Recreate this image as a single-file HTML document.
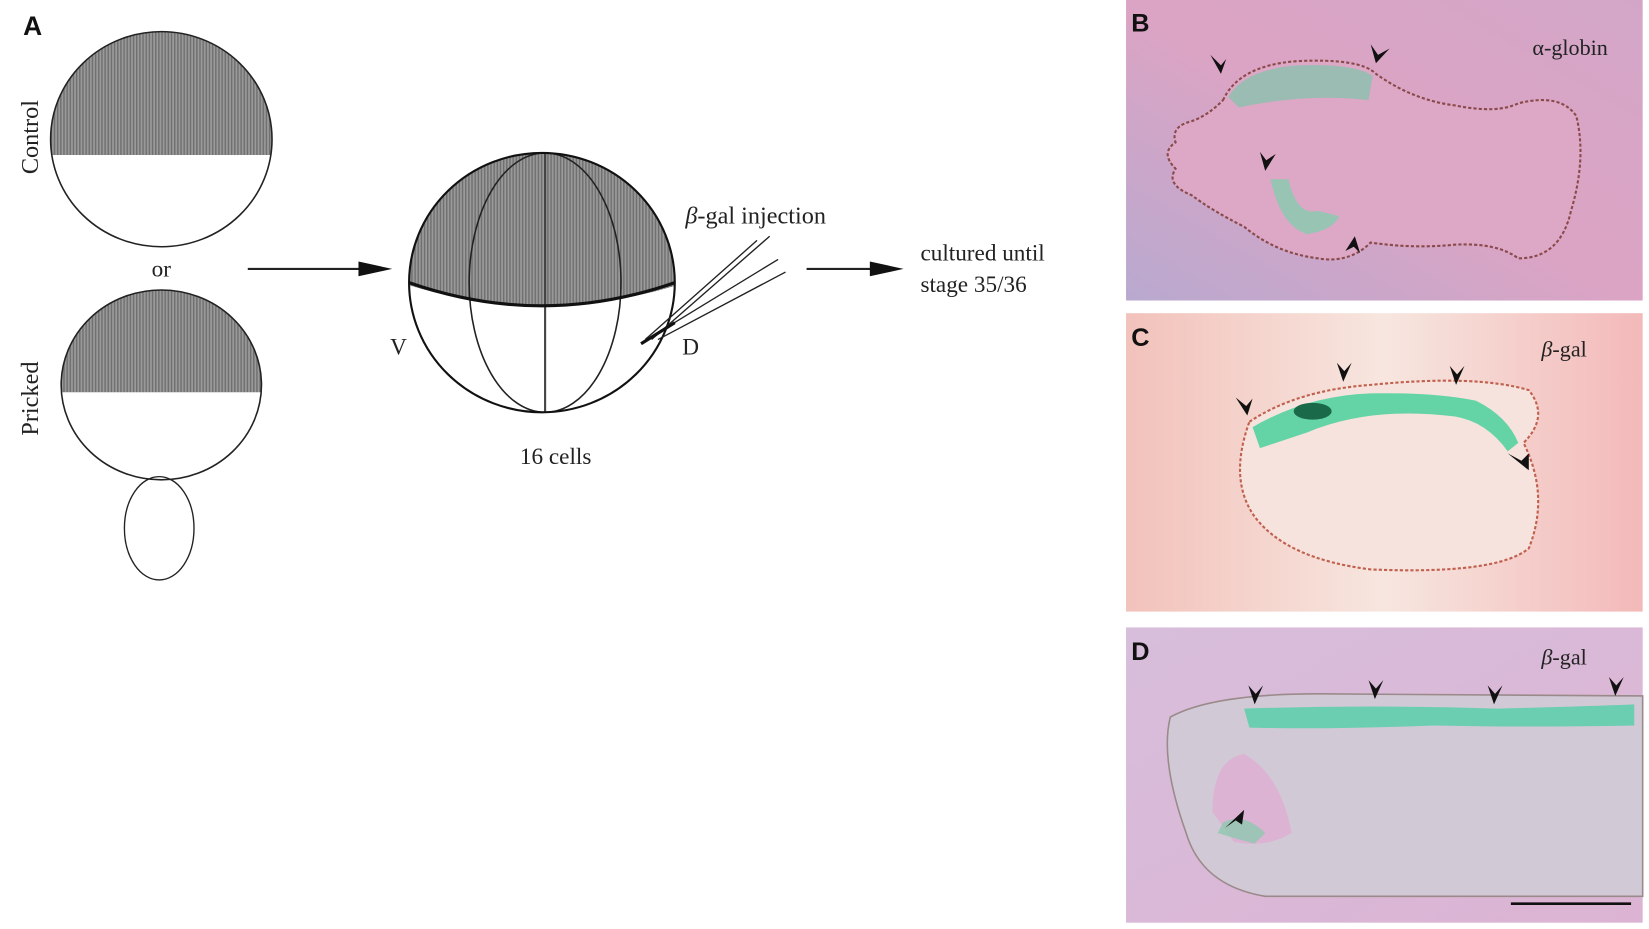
<!DOCTYPE html>
<html><head><meta charset="utf-8"><style>
html,body{margin:0;padding:0;background:#fff;width:1649px;height:929px;overflow:hidden}
svg{display:block}
.s{font-family:"Liberation Serif",serif;fill:#222}
.b{font-family:"Liberation Sans",sans-serif;font-weight:bold;fill:#111}
</style></head><body>
<svg width="1649" height="929" viewBox="0 0 1564 881" preserveAspectRatio="none" xmlns="http://www.w3.org/2000/svg">
<defs>
<pattern id="hat" width="3" height="3" patternUnits="userSpaceOnUse"><rect width="3" height="3" fill="#9a9a9a"/><rect width="1.4" height="3" fill="#707070"/></pattern>
<clipPath id="c1"><ellipse cx="153" cy="132" rx="105" ry="102"/></clipPath>
<clipPath id="c2"><ellipse cx="153" cy="365" rx="95" ry="90"/></clipPath>
<clipPath id="c3"><ellipse cx="514" cy="268" rx="126" ry="123"/></clipPath>
<linearGradient id="gB" x1="0" y1="1" x2="1" y2="0"><stop offset="0" stop-color="#b9a9cf"/><stop offset="0.5" stop-color="#dca4c4"/><stop offset="1" stop-color="#d3a6c8"/></linearGradient>
<linearGradient id="gC" x1="0" y1="0" x2="1" y2="0"><stop offset="0" stop-color="#f2c2bb"/><stop offset="0.5" stop-color="#f7e6df"/><stop offset="1" stop-color="#f3b9b9"/></linearGradient>
<linearGradient id="gD" x1="0" y1="0" x2="1" y2="1"><stop offset="0" stop-color="#d7bedb"/><stop offset="1" stop-color="#dcb3d3"/></linearGradient>
</defs>
<text x="22" y="33" class="b" font-size="25">A</text>
<rect x="40" y="20" width="230" height="127" fill="url(#hat)" clip-path="url(#c1)"/>
<ellipse cx="153" cy="132" rx="105" ry="102" fill="none" stroke="#222" stroke-width="1.5"/>
<text class="s" font-size="23" transform="translate(36,130) rotate(-90)" text-anchor="middle">Control</text>
<text x="153" y="262" class="s" font-size="22" text-anchor="middle">or</text>
<rect x="50" y="270" width="210" height="102" fill="url(#hat)" clip-path="url(#c2)"/>
<ellipse cx="153" cy="365" rx="95" ry="90" fill="none" stroke="#222" stroke-width="1.5"/>
<ellipse cx="151" cy="501" rx="33" ry="49" fill="none" stroke="#222" stroke-width="1.3"/>
<text class="s" font-size="23" transform="translate(36,378) rotate(-90)" text-anchor="middle">Pricked</text>
<line x1="235" y1="255" x2="345" y2="255" stroke="#222" stroke-width="2"/>
<path d="M340 248 L372 255 L340 262 Z" fill="#111"/>
<path d="M380 140 L650 140 L650 268 Q514 312 380 268 Z" fill="url(#hat)" clip-path="url(#c3)"/>
<ellipse cx="517" cy="268" rx="72" ry="123" fill="none" stroke="#222" stroke-width="1.5" clip-path="url(#c3)"/>
<line x1="517" y1="145" x2="517" y2="391" stroke="#444" stroke-width="2"/>
<path d="M388 268 Q514 312 640 268" fill="none" stroke="#111" stroke-width="3"/>
<ellipse cx="514" cy="268" rx="126" ry="123" fill="none" stroke="#111" stroke-width="2"/>
<text x="378" y="336" class="s" font-size="22" text-anchor="middle">V</text>
<text x="655" y="336" class="s" font-size="22" text-anchor="middle">D</text>
<text x="527" y="440" class="s" font-size="22" text-anchor="middle">16 cells</text>
<g stroke="#222" stroke-width="1.3">
<line x1="612" y1="322" x2="718" y2="228"/>
<line x1="618" y1="322" x2="730" y2="224"/>
<line x1="620" y1="318" x2="738" y2="246"/>
<line x1="624" y1="322" x2="745" y2="258"/>
</g>
<line x1="608" y1="326" x2="640" y2="306" stroke="#111" stroke-width="3"/>
<text x="650" y="212" class="s" font-size="23"><tspan font-style="italic">β</tspan>-gal injection</text>
<line x1="765" y1="255" x2="830" y2="255" stroke="#222" stroke-width="2"/>
<path d="M825 248 L857 255 L825 262 Z" fill="#111"/>
<text x="873" y="247" class="s" font-size="22">cultured until</text>
<text x="873" y="277" class="s" font-size="22">stage 35/36</text>

<rect x="1068" y="0" width="490" height="285" fill="url(#gB)"/>
<path d="M1160 95 Q1175 62 1230 58 Q1290 55 1305 70 Q1340 95 1380 100 Q1420 108 1440 98 Q1480 88 1495 110 Q1505 150 1490 200 Q1480 245 1440 245 Q1420 230 1380 232 Q1340 236 1300 230 Q1280 250 1250 245 Q1210 240 1180 215 Q1150 200 1130 185 Q1105 175 1115 160 Q1100 145 1115 135 Q1110 120 1130 115 Q1145 110 1160 95 Z" fill="#dca8c6" stroke="#8a4a4a" stroke-width="2" stroke-dasharray="3 2"/>
<path d="M1165 92 Q1180 66 1230 62 Q1285 60 1302 72 L1298 95 Q1240 88 1175 102 Z" fill="#8fbfae" opacity="0.85"/>
<path d="M1205 170 Q1215 215 1240 222 Q1265 218 1270 205 L1250 200 Q1230 205 1222 170 Z" fill="#8fc7b0" opacity="0.9"/>
<text x="1073" y="30" class="b" font-size="24">B</text>
<text x="1525" y="52" class="s" font-size="21" text-anchor="end">α-globin</text>
<rect x="1068" y="297" width="490" height="283" fill="url(#gC)"/>
<path d="M1185 400 Q1230 370 1300 365 Q1400 355 1450 370 Q1470 395 1445 420 Q1470 470 1450 520 Q1420 545 1300 540 Q1220 530 1190 490 Q1165 455 1185 400 Z" fill="#f7e3dd" stroke="#c0604e" stroke-width="2" stroke-dasharray="3 2"/>
<path d="M1188 405 Q1240 375 1300 373 Q1360 372 1400 380 Q1430 395 1440 420 L1430 428 Q1410 400 1380 395 Q1300 385 1240 410 Q1210 420 1195 425 Z" fill="#3fcf9a" opacity="0.8"/>
<ellipse cx="1245" cy="390" rx="18" ry="8" fill="#1a6a4a"/>
<text x="1073" y="328" class="b" font-size="24">C</text>
<text x="1505" y="338" class="s" font-size="21" text-anchor="end"><tspan font-style="italic">β</tspan>-gal</text>
<rect x="1068" y="595" width="490" height="280" fill="url(#gD)"/>
<path d="M1110 680 Q1150 658 1250 658 L1558 660 L1558 850 L1200 850 Q1140 840 1125 790 Q1100 720 1110 680 Z" fill="#d2c9d6" stroke="#9a8a8a" stroke-width="1.5"/>
<path d="M1150 770 Q1150 720 1180 715 Q1215 735 1225 790 Q1200 805 1170 798 Z" fill="#dcb3d3"/>
<path d="M1180 672 Q1300 668 1420 672 Q1500 670 1550 668 L1550 688 Q1450 690 1360 688 Q1260 692 1185 690 Z" fill="#3fd0a0" opacity="0.7"/>
<path d="M1160 780 Q1180 770 1200 790 L1190 800 Q1170 795 1155 790 Z" fill="#8fc8b0" opacity="0.8"/>
<text x="1073" y="626" class="b" font-size="24">D</text>
<text x="1505" y="630" class="s" font-size="21" text-anchor="end"><tspan font-style="italic">β</tspan>-gal</text>
<line x1="1433" y1="857" x2="1547" y2="857" stroke="#111" stroke-width="2.5"/>
<g fill="#111">
<path d="M1148 52 L1158 70 L1163 56 L1158 62 Z"/>
<path d="M1300 42 L1305 60 L1318 46 L1307 52 Z"/>
<path d="M1195 144 L1200 162 L1210 146 L1201 152 Z"/>
<path d="M1276 238 L1285 224 L1290 240 L1284 234 Z"/>
<path d="M1172 377 L1183 394 L1188 378 L1182 385 Z"/>
<path d="M1268 344 L1274 362 L1282 344 L1275 352 Z"/>
<path d="M1375 347 L1381 365 L1389 347 L1382 355 Z"/>
<path d="M1430 430 L1450 446 L1450 430 L1443 437 Z"/>
<path d="M1184 650 L1190 668 L1198 650 L1191 658 Z"/>
<path d="M1298 645 L1304 663 L1312 645 L1305 653 Z"/>
<path d="M1411 650 L1417 668 L1425 650 L1418 658 Z"/>
<path d="M1526 642 L1532 660 L1540 642 L1533 650 Z"/>
<path d="M1162 785 L1180 768 L1178 782 L1172 778 Z"/>
</g>
</svg>
</body></html>
